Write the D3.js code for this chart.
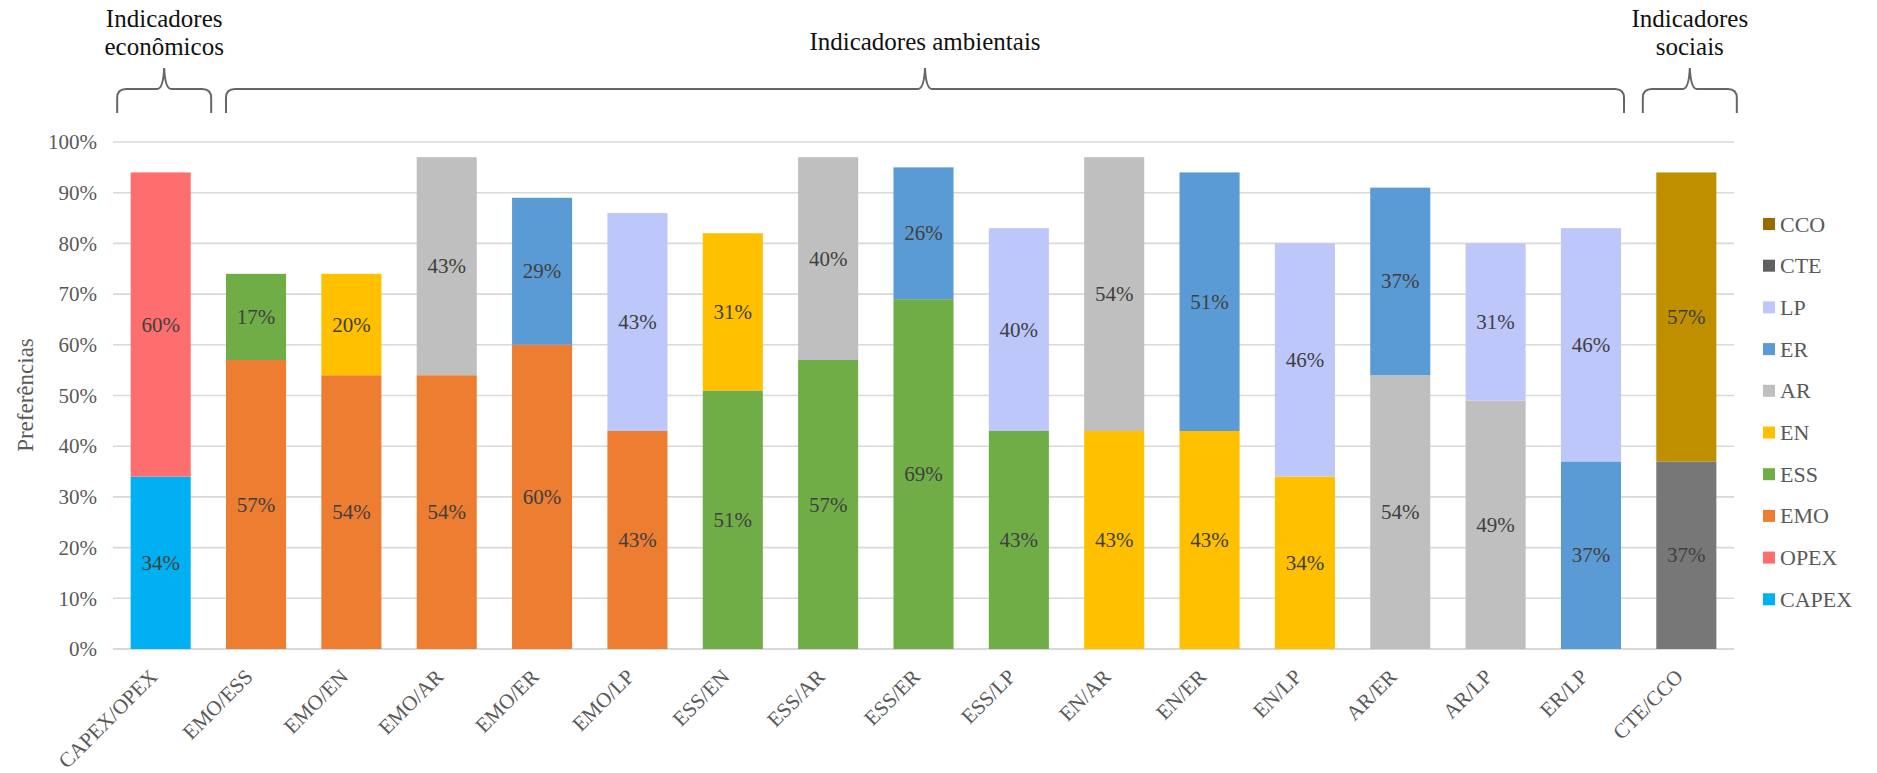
<!DOCTYPE html>
<html>
<head>
<meta charset="utf-8">
<script src="https://cdn.jsdelivr.net/npm/d3@7"></script>
<style>
  html, body { margin: 0; padding: 0; background: #fff; }
  svg { display: block; font-family: "Liberation Serif", "Times New Roman", serif; }
</style>
</head>
<body>
<svg id="chart" width="1877" height="773"></svg>
<script>
// Pairwise preference comparisons: each bar stacks the two indicators named in its label
const categories = ["CAPEX/OPEX", "EMO/ESS", "EMO/EN", "EMO/AR", "EMO/ER", "EMO/LP",
  "ESS/EN", "ESS/AR", "ESS/ER", "ESS/LP", "EN/AR", "EN/ER", "EN/LP",
  "AR/ER", "AR/LP", "ER/LP", "CTE/CCO"];
// share (%) for the first indicator of each pair (bottom segment)
const lowerValues = [34, 57, 54, 54, 60, 43, 51, 57, 69, 43, 43, 43, 34, 54, 49, 37, 37];
// share (%) for the second indicator of each pair (top segment)
const upperValues = [60, 17, 20, 43, 29, 43, 31, 40, 26, 40, 54, 51, 46, 37, 31, 46, 57];

const seriesNames = ["CAPEX", "OPEX", "EMO", "ESS", "EN", "AR", "ER", "LP", "CTE", "CCO"];
const seriesColors = ["#00B0F0", "#FF6E6E", "#ED7D31", "#70AD47", "#FFC000",
  "#BFBFBF", "#5B9BD5", "#BDC7FA", "#777777", "#BF8F00"];
const legendSwatchColors = ["#00B0F0", "#FF6E6E", "#ED7D31", "#70AD47", "#FFC000",
  "#BFBFBF", "#5B9BD5", "#BDC7FA", "#606060", "#986A00"];

const yTicks = [0, 10, 20, 30, 40, 50, 60, 70, 80, 90, 100];
const yTitle = "Preferências";

// indicator groups shown with braces above the plot
const groupTitles = [["Indicadores", "econômicos"], ["Indicadores ambientais"], ["Indicadores", "sociais"]];
const groupFirst = ["CAPEX/OPEX", "EMO/ESS", "CTE/CCO"];
const groupLast = ["CAPEX/OPEX", "ER/LP", "CTE/CCO"];

// ---- layout ----
const plot = { left: 113, right: 1734, top: 142, bottom: 649 };

const svg = d3.select("#chart");
const color = d3.scaleOrdinal().domain(seriesNames).range(seriesColors);

const x = d3.scaleBand()
  .domain(categories)
  .range([plot.left, plot.right])
  .paddingInner(0.37)
  .paddingOuter(0.185);

const y = d3.scaleLinear().domain([0, 100]).range([plot.bottom, plot.top]);

// gridlines
svg.append("g")
  .selectAll("line")
  .data(yTicks)
  .join("line")
  .attr("x1", plot.left).attr("x2", plot.right)
  .attr("y1", d => y(d)).attr("y2", d => y(d))
  .attr("stroke", "#D9D9D9")
  .attr("stroke-width", d => d === 0 ? 2 : 1.6);

// y axis labels
const yAxis = d3.axisLeft(y).tickValues(yTicks).tickFormat(d => d + "%").tickSize(0).tickPadding(0);
const yg = svg.append("g").attr("transform", `translate(${plot.left - 16},0)`).call(yAxis);
yg.select(".domain").remove();
yg.selectAll("text")
  .attr("font-family", "Liberation Serif")
  .attr("font-size", 21)
  .attr("fill", "#595959");

// y title
svg.append("text")
  .attr("transform", `translate(25,395) rotate(-90)`)
  .attr("text-anchor", "middle")
  .attr("dominant-baseline", "central")
  .attr("font-size", 23)
  .attr("fill", "#595959")
  .text(yTitle);

// stacked segments
const segments = [];
categories.forEach((c, i) => {
  const [a, b] = c.split("/");
  segments.push({ cat: c, key: a, y0: 0, y1: lowerValues[i], v: lowerValues[i] });
  segments.push({ cat: c, key: b, y0: lowerValues[i], y1: lowerValues[i] + upperValues[i], v: upperValues[i] });
});

const bars = svg.append("g");
bars.selectAll("rect")
  .data(segments)
  .join("rect")
  .attr("x", d => x(d.cat))
  .attr("width", x.bandwidth())
  .attr("y", d => y(d.y1))
  .attr("height", d => y(d.y0) - y(d.y1))
  .attr("fill", d => color(d.key));

bars.selectAll("text")
  .data(segments)
  .join("text")
  .attr("x", d => x(d.cat) + x.bandwidth() / 2)
  .attr("y", d => (y(d.y0) + y(d.y1)) / 2)
  .attr("text-anchor", "middle")
  .attr("dominant-baseline", "central")
  .attr("font-size", 21)
  .attr("fill", "#404040")
  .text(d => d.v + "%");

// x axis labels, rotated
const xAxis = d3.axisBottom(x).tickSize(0).tickPadding(0);
const xg = svg.append("g").attr("transform", `translate(0,${plot.bottom})`).call(xAxis);
xg.select(".domain").remove();
xg.selectAll("text")
  .attr("font-family", "Liberation Serif")
  .attr("font-size", 21)
  .attr("fill", "#595959")
  .attr("text-anchor", "end")
  .attr("dy", null)
  .attr("y", null)
  .attr("transform", "translate(-2,29) rotate(-45)");

// legend
const legendItems = seriesNames.slice().reverse();
const legend = svg.append("g").attr("transform", "translate(1763,224)");
const li = legend.selectAll("g")
  .data(legendItems)
  .join("g")
  .attr("transform", (d, i) => `translate(0,${i * 41.7})`);
li.append("rect")
  .attr("x", 0).attr("y", -6)
  .attr("width", 12).attr("height", 12)
  .attr("fill", d => legendSwatchColors[seriesNames.indexOf(d)]);
li.append("text")
  .attr("x", 17).attr("y", 0)
  .attr("dominant-baseline", "central")
  .attr("font-size", 22)
  .attr("fill", "#595959")
  .text(d => d);

// group braces and titles
const braceY = 89, braceEnd = 113, braceTop = 68, r = 9, minBrace = 94;
function bracePath(x0, x1) {
  const xm = (x0 + x1) / 2;
  return `M${x0},${braceEnd} L${x0},${braceY + r} Q${x0},${braceY} ${x0 + r},${braceY}`
    + ` L${xm - 7},${braceY} Q${xm - 1},${braceY} ${xm},${braceTop}`
    + ` Q${xm + 1},${braceY} ${xm + 7},${braceY}`
    + ` L${x1 - r},${braceY} Q${x1},${braceY} ${x1},${braceY + r} L${x1},${braceEnd}`;
}
const groups = svg.append("g");
groupTitles.forEach((lines, g) => {
  // brace spans the group's bars, widened to a minimum width for single bars
  let x0 = x(groupFirst[g]);
  let x1 = x(groupLast[g]) + x.bandwidth() + 3;
  const c = (x0 + x1) / 2;
  if (x1 - x0 < minBrace) { x0 = c - minBrace / 2 + 2; x1 = c + minBrace / 2 + 2; }
  const xm = (x0 + x1) / 2;
  groups.append("path")
    .attr("d", bracePath(x0, x1))
    .attr("fill", "none")
    .attr("stroke", "#666666")
    .attr("stroke-width", 2);
  const lastBase = lines.length > 1 ? 55 : 50;
  const t = groups.append("text")
    .attr("text-anchor", "middle")
    .attr("font-size", 25)
    .attr("fill", "#111111");
  lines.forEach((ln, k) => {
    t.append("tspan")
      .attr("x", xm)
      .attr("y", lastBase - (lines.length - 1 - k) * 28)
      .text(ln);
  });
});
</script>
</body>
</html>
